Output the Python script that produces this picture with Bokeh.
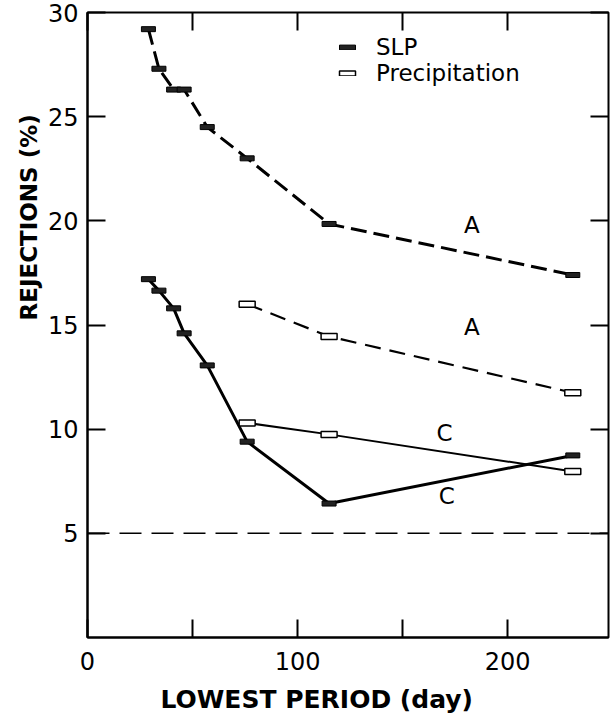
from bokeh.plotting import figure
from bokeh.models import (Range1d, FixedTicker, LinearAxis, Label, Span, Title,
                          Legend, LegendItem, ColumnDataSource)
from bokeh.embed import file_html
from bokeh.resources import INLINE

# ---- data ----
slp_period = [29, 34, 41, 46, 57, 76, 115, 231]
slp_A = [29.2, 27.3, 26.3, 26.3, 24.5, 23.0, 19.85, 17.4]
slp_C = [17.2, 16.65, 15.8, 14.6, 13.06, 9.4, 6.43, 8.74]

precip_period = [76, 115, 231]
precip_A = [16.0, 14.45, 11.75]
precip_C = [10.3, 9.75, 7.97]

significance_level = 5

x_ticks = [0, 50, 100, 150, 200]
x_tick_labels = {50: "", 150: ""}
y_ticks = [5, 10, 15, 20, 25, 30]

FONT = "DejaVu Sans"

p = figure(width=613, height=724, x_range=Range1d(0, 248), y_range=Range1d(0, 30),
           output_backend="svg", toolbar_location=None,
           min_border_left=87, min_border_right=5, min_border_top=12, min_border_bottom=87)
p.grid.visible = False
p.outline_line_color = "black"
p.outline_line_width = 2
p.background_fill_color = "white"
p.border_fill_color = "white"

# axes
for ax in (p.xaxis[0], p.yaxis[0]):
    ax.major_tick_in = 18
    ax.major_tick_out = 0
    ax.minor_tick_line_color = None
    ax.axis_line_width = 2
    ax.major_tick_line_width = 2
    ax.major_label_text_font = FONT
    ax.major_label_text_font_size = "24px"
    ax.major_label_text_color = "black"

p.xaxis.ticker = FixedTicker(ticks=x_ticks)
p.xaxis.major_label_overrides = x_tick_labels
p.xaxis.major_label_standoff = 14

p.yaxis.ticker = FixedTicker(ticks=y_ticks)
p.yaxis.major_label_standoff = 9

# ticks on the top and right sides, no labels
top = LinearAxis(ticker=FixedTicker(ticks=x_ticks), major_tick_in=18, major_tick_out=0,
                 minor_tick_line_color=None, axis_line_color=None, major_tick_line_width=2,
                 major_label_overrides={t: "" for t in x_ticks}, major_label_standoff=0)
right = LinearAxis(ticker=FixedTicker(ticks=y_ticks), major_tick_in=18, major_tick_out=0,
                   minor_tick_line_color=None, axis_line_color=None, major_tick_line_width=2,
                   major_label_overrides={t: "" for t in y_ticks}, major_label_standoff=0)
p.add_layout(top, "above")
p.add_layout(right, "right")

# axis titles, shifted off-centre as in the reference
p.add_layout(Title(text="REJECTIONS (%)", align="left", offset=317, standoff=6,
                   text_font=FONT, text_font_size="23px", text_font_style="bold",
                   text_color="black"), "left")
p.add_layout(Title(text="LOWEST PERIOD (day)", align="left", offset=73, standoff=21,
                   text_font=FONT, text_font_size="25px", text_font_style="bold",
                   text_color="black"), "below")

# 5% reference line
p.add_layout(Span(location=significance_level, dimension="width", line_color="black",
                  line_width=1.5, line_dash="22 10"))

slp = ColumnDataSource(dict(x=slp_period, A=slp_A, C=slp_C))
pre = ColumnDataSource(dict(x=precip_period, A=precip_A, C=precip_C))

p.line("x", "A", source=slp, line_color="black", line_width=3, line_dash="16 7")
p.line("x", "C", source=slp, line_color="black", line_width=3)
p.line("x", "A", source=pre, line_color="black", line_width=2.2, line_dash="16 9")
p.line("x", "C", source=pre, line_color="black", line_width=2)

slp_mark = p.rect("x", "A", source=slp, width=14, height=5, width_units="screen",
                  height_units="screen", fill_color="#222222", line_color="black", line_width=1)
p.rect("x", "C", source=slp, width=14, height=5, width_units="screen",
       height_units="screen", fill_color="#222222", line_color="black", line_width=1)
pre_mark = p.rect("x", "A", source=pre, width=16, height=6, width_units="screen",
                  height_units="screen", fill_color="white", line_color="black", line_width=1.5)
p.rect("x", "C", source=pre, width=16, height=6, width_units="screen",
       height_units="screen", fill_color="white", line_color="black", line_width=1.5)

# curve labels
for lx, ly, t in [(183, 19.8, "A"), (183, 14.9, "A"), (170, 9.8, "C"), (171, 6.8, "C")]:
    p.add_layout(Label(x=lx, y=ly, text=t, text_font=FONT, text_font_size="23px",
                       text_align="center", text_baseline="middle", text_color="black"))

legend = Legend(items=[LegendItem(label="SLP", renderers=[slp_mark]),
                       LegendItem(label="Precipitation", renderers=[pre_mark])],
                location=(250, 551), glyph_width=20, glyph_height=6, label_height=26,
                label_standoff=19, spacing=0, padding=0, margin=0,
                border_line_color=None, background_fill_alpha=0,
                label_text_font=FONT, label_text_font_size="23px", label_text_color="black")
p.add_layout(legend)

open("out.html", "w").write(file_html(p, INLINE))
